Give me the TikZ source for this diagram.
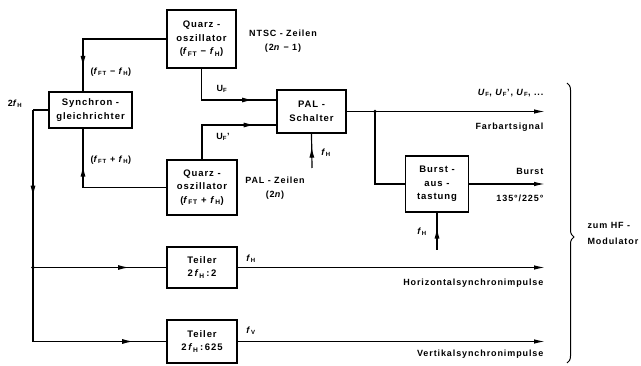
\documentclass[tikz,border=0pt]{standalone}
\usepackage{fontspec}
\setmainfont[LetterSpace=10]{Liberation Sans}
\usetikzlibrary{arrows.meta,decorations.pathreplacing,decorations.markings,calc}
\newcommand{\fq}[1]{\textit{f}\textsubscript{#1}}

\begin{document}
\begin{tikzpicture}[x=1pt,y=-1pt,line width=1.2pt,
  box/.style={draw,align=center,inner sep=2pt,font=\fontsize{9.5}{13.5}\selectfont\bfseries},
  lbl/.style={inner sep=1pt,font=\fontsize{9}{10}\selectfont\bfseries},
  midarr/.style={postaction={decorate},decoration={markings,
      mark=at position #1 with {\arrow{Latex[length=11pt,width=5pt]}}}},
  endarr/.style={-{Latex[length=11pt,width=4.5pt]}}]
\useasboundingbox (0,0) rectangle (641,366);
% Boxes
\node[box,minimum width=69pt,minimum height=58pt] (qa) at (201.5,39) {Quarz -\\oszillator\\(\fq{FT} − \fq{H})};
\node[box,minimum width=83pt,minimum height=36pt] (sg) at (90.5,110) {Synchron -\\gleichrichter};
\node[box,minimum width=70pt,minimum height=55pt] (qb) at (202,187.5) {Quarz -\\oszillator\\(\fq{FT} + \fq{H})};
\node[box,minimum width=69pt,minimum height=43pt] (pal) at (311.5,111.5) {PAL -\\Schalter};
\node[box,minimum width=63pt,minimum height=56pt] (bu) at (437,184) {Burst -\\aus -\\tastung};
\node[box,minimum width=70pt,minimum height=41pt] (t1) at (202,267.5) {Teiler\\2\,\fq{H}\,:\,2};
\node[box,minimum width=70pt,minimum height=43pt] (t2) at (202,341.5) {Teiler\\2\,\fq{H}\,:\,625};

% free ends
\coordinate (lft) at (33,110);
\coordinate (fhp) at (312,168);
\coordinate (jF) at (375,111.5);
\coordinate (fhb) at (437,250);
\coordinate (outF) at (545,111.5);
\coordinate (outB) at (545,184);
\coordinate (outH) at (545,267.5);
\coordinate (outV) at (545,341.5);
\coordinate (br1) at (567,83);
\coordinate (br2) at (567,363);

% Synchrongleichrichter loop
\draw[midarr=0.82] (qa.west) -| ([xshift=-7.5pt]sg.north);
\draw[midarr=0.74] (qb.west) -| ([xshift=-7.5pt]sg.south);
\draw (sg.west) -- (lft);
\draw[midarr=0.55] (lft) -- (lft |- t1.west);
\draw[midarr=0.72] (lft |- t1.west) -- (t1.west);
\draw[midarr=0.84] (lft |- t1.west) |- (t2.west);
\fill (lft |- t1.west) circle (1.8pt);

% PAL-Schalter
\draw[midarr=0.78] (qa.south) |- ([yshift=11.5pt]pal.west);
\draw[midarr=0.8] (qb.north) |- ([yshift=-13.5pt]pal.west);
\draw[midarr=0.62] (fhp) -- (pal.south);
\draw[endarr] (pal.east) -- (outF);
\fill (jF) circle (1.8pt);
\draw (jF) |- (bu.west);
\draw[endarr] (bu.east) -- (outB);
\draw[midarr=0.6] (fhb) -- (bu.south);
\draw[endarr] (t1.east) -- (outH);
\draw[endarr] (t2.east) -- (outV);

% Brace
\draw[decorate,decoration={brace,amplitude=7pt,aspect=0.55},line width=1pt] (br1) -- (br2);

% Labels
\node[lbl] (l2fh) at (15,104) {2\fq{H}};
\node[lbl,anchor=west] (lfm) at (89,72) {(\fq{FT} − \fq{H})};
\node[lbl,anchor=west] (lfp) at (89,160) {(\fq{FT} + \fq{H})};
\node[lbl] (ntsc) at (283,33) {NTSC - Zeilen};
\node[lbl] (ntscn) at (283,48) {(2\textit{n} − 1)};
\node[lbl] (palz) at (275,180) {PAL - Zeilen};
\node[lbl] (palzn) at (275,195) {(2\textit{n})};
\node[lbl] (luf) at (222,89) {U\textsubscript{F}};
\node[lbl] (lufs) at (223,137) {U\textsubscript{F}'};
\node[lbl] (lfhp) at (326,153) {\fq{H}};
\node[lbl] (lfhb) at (422,232) {\fq{H}};
\node[lbl] (lfh1) at (251,259) {\fq{H}};
\node[lbl] (lfv) at (251,331) {\fq{V}};
\node[lbl,anchor=east] (lu) at (545,93) {\textit{U}\textsubscript{F}, \textit{U}\textsubscript{F}', \textit{U}\textsubscript{F}, ...};
\node[lbl,anchor=east] (lfarb) at (545,127) {Farbartsignal};
\node[lbl,anchor=east] (lburst) at (545,171) {Burst};
\node[lbl,anchor=east] (lgrad) at (545,198) {135°/225°};
\node[lbl,anchor=east] (lhor) at (545,283) {Horizontalsynchronimpulse};
\node[lbl,anchor=east] (lver) at (545,354) {Vertikalsynchronimpulse};
\node[lbl,anchor=west] (lzum) at (586,225) {zum HF -};
\node[lbl,anchor=west] (lmod) at (586,241) {Modulator};
\end{tikzpicture}
\end{document}
